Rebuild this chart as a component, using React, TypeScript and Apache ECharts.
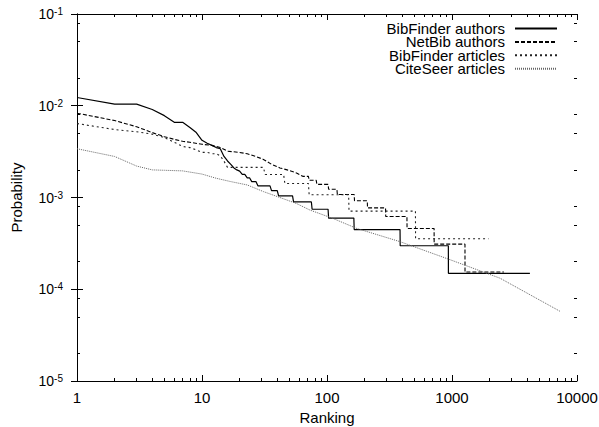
import React, { useEffect, useRef } from 'react';
import * as echarts from 'echarts';

const seriesNames = ['BibFinder authors', 'NetBib authors', 'BibFinder articles', 'CiteSeer articles'];

const bibAuthorsRank = [1, 2, 3, 4, 5, 6, 7, 8, 9, 10, 11, 12, 13, 14, 15, 16, 17, 18, 19, 20, 21, 22, 23, 24, 25, 27, 28, 35, 36, 40, 41, 53, 54, 75, 76, 102, 103, 164, 165, 384, 385, 935, 936, 4200];
const bibAuthorsProb = [0.0123, 0.0104, 0.0104, 0.0091, 0.0078, 0.0066, 0.0066, 0.0058, 0.0051, 0.0042, 0.0039, 0.0037, 0.0035, 0.0034, 0.0028, 0.0025, 0.0023, 0.0021, 0.0020, 0.00194, 0.00179, 0.00179, 0.00164, 0.00164, 0.00149, 0.00149, 0.00134, 0.00134, 0.00119, 0.00119, 0.00104, 0.00104, 0.000894, 0.000894, 0.000745, 0.000745, 0.000596, 0.000596, 0.000447, 0.000447, 0.000298, 0.000298, 0.000149, 0.000149];

const netBibRank = [1, 2, 3, 4, 5, 6, 7, 8, 10, 12, 14, 16, 20, 23, 27, 31, 36, 42, 48, 57, 64, 71, 72, 82, 83, 102, 103, 120, 121, 165, 166, 210, 211, 294, 295, 436, 437, 719, 720, 1270, 1271, 2600];
const netBibProb = [0.0083, 0.0069, 0.0059, 0.0051, 0.0046, 0.0043, 0.0041, 0.0040, 0.0038, 0.0037, 0.0035, 0.0032, 0.0031, 0.0030, 0.0028, 0.0026, 0.0023, 0.0021, 0.0020, 0.00185, 0.0017, 0.0017, 0.00154, 0.00154, 0.00139, 0.00139, 0.00123, 0.00123, 0.00108, 0.00108, 0.00092, 0.00092, 0.00077, 0.00077, 0.00062, 0.00062, 0.00046, 0.00046, 0.00031, 0.00031, 0.000154, 0.000154];

const bibArticlesRank = [1, 2, 3, 4, 5, 6, 7, 8, 9, 10, 11, 12, 13, 14, 15, 16, 31, 32, 45, 46, 71, 72, 149, 150, 510, 511, 1960];
const bibArticlesProb = [0.0064, 0.0055, 0.0052, 0.0049, 0.0045, 0.0040, 0.0036, 0.0035, 0.0033, 0.0031, 0.0031, 0.0030, 0.0030, 0.00284, 0.00249, 0.00213, 0.00213, 0.00178, 0.00178, 0.00142, 0.00142, 0.00107, 0.00107, 0.00071, 0.00071, 0.000355, 0.000355];

const citeSeerRank = [1, 2, 3, 4, 5, 7, 10, 13, 17, 23, 31, 42, 57, 73, 112, 173, 384, 964, 2420, 7400];
const citeSeerProb = [0.0034, 0.0028, 0.0022, 0.0020, 0.00198, 0.00195, 0.0018, 0.00162, 0.00149, 0.00137, 0.00116, 0.0010, 0.00086, 0.00073, 0.00059, 0.00046, 0.00033, 0.00021, 0.000132, 0.000057];

const xMinorTicks = [2, 3, 4, 5, 6, 7, 8, 9, 20, 30, 40, 50, 60, 70, 80, 90, 200, 300, 400, 500, 600, 700, 800, 900, 2000, 3000, 4000, 5000, 6000, 7000, 8000, 9000];
const yMinorTicks = [0.08, 0.05, 0.02, 0.008, 0.005, 0.002, 0.0008, 0.0005, 0.0002, 0.00008, 0.00005, 0.00002];

const X_MIN = 1;
const X_MAX = 10000;
const Y_MIN = 1e-5;
const Y_MAX = 1e-1;

const FONT = '"Liberation Sans", Arial, Helvetica, sans-serif';

function pairs(r: number[], p: number[]) {
  return r.map((x, i) => [x, p[i]]);
}

export default function App() {
  const ref = useRef<HTMLDivElement>(null);
  useEffect(() => {
    if (!ref.current) return;
    const chart = echarts.init(ref.current, undefined, { renderer: 'svg' });
    const axisLine = { show: true, lineStyle: { color: '#000', width: 1 } };
    const majorTick = { show: true, inside: true, length: 6, lineStyle: { color: '#000' } };
    const xBase = {
      type: 'log' as const,
      logBase: 10,
      min: X_MIN,
      max: X_MAX,
      splitLine: { show: false },
      axisLine,
      axisTick: majorTick,
    };
    const yBase = {
      type: 'log' as const,
      logBase: 10,
      min: Y_MIN,
      max: Y_MAX,
      splitLine: { show: false },
      axisLine,
      axisTick: majorTick,
    };
    // Minor ticks: linear axes spanning the same decades (log10 space), ticks only.
    const minorAxis = (pos: string, lo: number, hi: number, vals: number[]) => ({
      type: 'value' as const,
      position: pos,
      min: Math.log10(lo),
      max: Math.log10(hi),
      axisLine: { show: false },
      axisLabel: { show: false },
      splitLine: { show: false },
      axisTick: {
        show: true,
        inside: true,
        length: 3,
        customValues: vals.map((v) => Math.log10(v)),
        lineStyle: { color: '#000' },
      },
    });
    const mk = (name: string, r: number[], p: number[], color: string, type: any, width: number) => ({
      name,
      type: 'line' as const,
      data: pairs(r, p),
      symbol: 'none',
      showSymbol: false,
      lineStyle: { color, width, type },
      itemStyle: { color },
      xAxisIndex: 0,
      yAxisIndex: 0,
      z: 3,
    });
    chart.setOption({
      animation: false,
      grid: { left: 77, right: 22, top: 14, bottom: 46, outerBoundsMode: 'none', containLabel: false },
      legend: {
        data: seriesNames,
        orient: 'vertical',
        align: 'right',
        right: 41,
        top: 21,
        padding: 0,
        itemGap: -1.6,
        itemWidth: 42,
        itemHeight: 14,
        itemStyle: { opacity: 0 },
        textStyle: { fontFamily: FONT, fontSize: 15, color: '#000', lineHeight: 14, padding: [0, 5, 0, 0] },
      },
      xAxis: [
        {
          ...xBase,
          position: 'bottom',
          name: 'Ranking',
          nameLocation: 'middle',
          nameGap: 29,
          nameTextStyle: { fontFamily: FONT, fontSize: 15, color: '#000' },
          axisLabel: {
            fontFamily: FONT,
            fontSize: 15,
            color: '#000',
            margin: 9,
            formatter: (v: number) => String(Math.round(v)),
          },
        },
        { ...xBase, position: 'top', axisLabel: { show: false } },
        minorAxis('bottom', X_MIN, X_MAX, xMinorTicks),
        minorAxis('top', X_MIN, X_MAX, xMinorTicks),
      ],
      yAxis: [
        {
          ...yBase,
          position: 'left',
          name: 'Probability',
          nameLocation: 'middle',
          nameGap: 53,
          nameTextStyle: { fontFamily: FONT, fontSize: 15, color: '#000' },
          axisLabel: {
            fontFamily: FONT,
            color: '#000',
            margin: 14,
            formatter: (v: number) => '{b|10}{s|' + Math.round(Math.log10(v)) + '}',
            rich: {
              b: { fontFamily: FONT, fontSize: 14, lineHeight: 15, color: '#000' },
              s: { fontFamily: FONT, fontSize: 10, verticalAlign: 'top', color: '#000' },
            },
          },
        },
        { ...yBase, position: 'right', axisLabel: { show: false } },
        minorAxis('left', Y_MIN, Y_MAX, yMinorTicks),
        minorAxis('right', Y_MIN, Y_MAX, yMinorTicks),
      ],
      series: [
        mk(seriesNames[0], bibAuthorsRank, bibAuthorsProb, '#000', 'solid', 1.2),
        mk(seriesNames[1], netBibRank, netBibProb, '#000', [4, 2], 1.1),
        mk(seriesNames[2], bibArticlesRank, bibArticlesProb, '#222', [2, 3], 1.1),
        mk(seriesNames[3], citeSeerRank, citeSeerProb, '#666', [1, 1], 1),
      ],
    });
    return () => chart.dispose();
  }, []);
  return <div ref={ref} style={{ position: 'absolute', left: 0, top: 0, width: 599, height: 427 }} />;
}
